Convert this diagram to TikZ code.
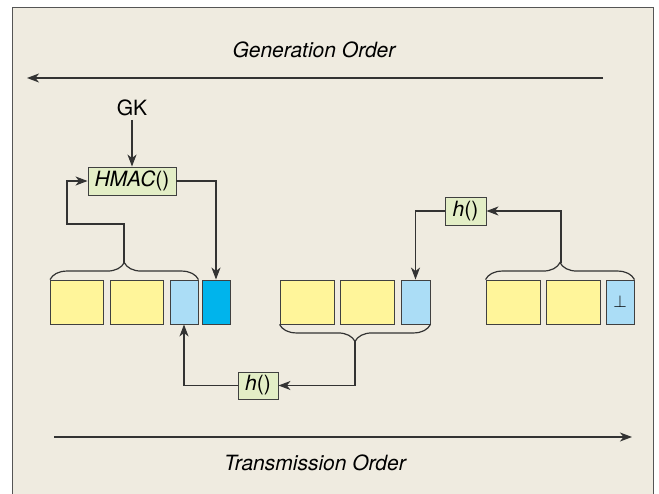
\documentclass[tikz,border=0pt]{standalone}
\usepackage{fontspec}
\setmainfont{TeX Gyre Heros}
\usetikzlibrary{arrows.meta,decorations.pathreplacing}
\definecolor{paper}{HTML}{EFEBE0}
\definecolor{frameline}{HTML}{555555}
\definecolor{datayellow}{HTML}{FFF59A}
\definecolor{hashblue}{HTML}{ABDDF6}
\definecolor{macblue}{HTML}{00B4EC}
\definecolor{fungreen}{HTML}{E3EEC6}
\begin{document}
\begin{tikzpicture}[x=1pt,y=-1pt,line width=1.2pt,draw=black!80,
    font=\fontsize{21}{24}\selectfont,
    >={Stealth[length=12pt,width=9pt,inset=3.5pt]}]
    \tikzstyle{field}=[draw=black!75,line width=0.9pt,minimum height=44pt,inner sep=0pt]
    \tikzstyle{payload}=[field,fill=datayellow,minimum width=53pt]
    \tikzstyle{hashfield}=[field,fill=hashblue,minimum width=28pt]
    \tikzstyle{func}=[draw=black!75,line width=0.9pt,fill=fungreen,minimum height=28pt,inner sep=0pt]
    \tikzstyle{flow}=[->,draw=black!80]
    \tikzstyle{grouping}=[draw=black!80,decorate,decoration={brace,amplitude=17pt}]

    % background and frame
    \useasboundingbox (0,0) rectangle (659,494);
    \fill[white] (0,0) rectangle (659,494);
    \draw[fill=paper,draw=frameline,line width=1pt] (12,8) rectangle (653,510);

    % order labels
    \node[anchor=base] (gen) at (314.5,58) {\textit{Generation Order}};
    \node[anchor=base] (trans) at (315.5,470) {\textit{Transmission Order}};
    \coordinate (genR) at (603,78);
    \coordinate (genL) at (27,78);
    \coordinate (trL) at (54,437);
    \coordinate (trR) at (632,437);
    \draw[flow] (genR) -- (genL);
    \draw[flow] (trL) -- (trR);

    % first packet (signed)
    \node[payload] (A-1) at (77,302) {};
    \node[payload,minimum width=53pt] (A-2) at (136.5,302) {};
    \node[hashfield] (A-3) at (184,302) {};
    \node[field,fill=macblue,minimum width=28pt] (A-4) at (216,302) {};

    % second packet
    \node[payload,minimum width=54pt] (B-1) at (307,302) {};
    \node[payload,minimum width=54pt] (B-2) at (367,302) {};
    \node[hashfield,minimum width=29pt] (B-3) at (415.5,302) {};

    % last packet
    \node[payload,minimum width=54pt] (C-1) at (513,302) {};
    \node[payload,minimum width=54pt] (C-2) at (573,302) {};
    \node[hashfield] (C-3) at (620,302) {\fontsize{16}{16}\selectfont$\perp$};

    % functions
    \node (gk) at (132,108) {GK};
    \node[func,minimum width=88pt] (hmac) at (132,181) {\textit{HMAC}()};
    \node[func,minimum width=41pt] (h-top) at (465.5,211) {\textit{h}()};
    \node[func,minimum width=40pt,minimum height=27pt] (h-bot) at (258,385.5) {\textit{h}()};

    % braces over the fields that are hashed
    \draw[grouping] (A-1.north west) -- (A-3.north east);
    \draw[grouping] (C-1.north west) -- (C-3.north east);
    \draw[grouping] (B-3.south east) -- (B-1.south west);
    \coordinate (tipA) at (124,263);
    \coordinate (tipC) at (561,263);
    \coordinate (tipB) at (355,341);
    \coordinate (kinkA) at (67,224);

    % connections
    \draw[flow] (gk) -- (hmac.north);
    \draw[flow] (tipA) |- (kinkA) |- (hmac.west);
    \draw[flow] (hmac.east) -| (A-4.north);
    \draw[flow] (tipC) |- (h-top.east);
    \draw[flow] (h-top.west) -| (B-3.north);
    \draw[flow] (tipB) |- (h-bot.east);
    \draw[flow] (h-bot.west) -| (A-3.south);
\end{tikzpicture}
\end{document}
